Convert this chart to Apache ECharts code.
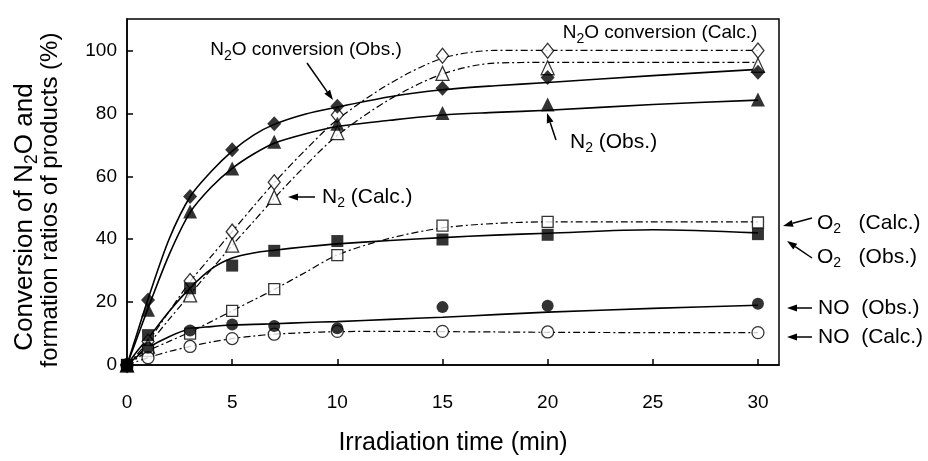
<!DOCTYPE html>
<html>
<head>
<meta charset="utf-8">
<script src="https://cdn.jsdelivr.net/npm/echarts@6/dist/echarts.min.js"></script>
<style>
  html, body { margin: 0; padding: 0; background: #fff; }
  #chart { width: 928px; height: 461px; }
</style>
</head>
<body>
<div id="chart"></div>
<script>
// measured points (min, %)
const times = [0, 1, 3, 5, 7, 10, 15, 20, 30];
const n2oObs = [0, 20.7, 53.6, 68.4, 76.7, 82.3, 88.0, 91.4, 93.1];
const n2Obs = [0, 17.6, 48.8, 62.5, 71.0, 76.7, 80.1, 82.8, 84.4];
const o2Obs = [0, 9.5, 24.4, 31.6, 36.3, 39.4, 39.9, 41.4, 41.6];
const noObs = [0, 5.5, 11.0, 12.9, 12.4, 11.7, 18.4, 18.8, 19.5];
const n2oCalc = [0, 7.5, 26.7, 42.4, 58.1, 79.5, 98.3, 99.9, 100];
const n2Calc = [0, 6.0, 22.3, 38.1, 53.3, 73.9, 92.7, 94.5, 95.3];
const o2Calc = [0, 4.5, 10.0, 17.2, 24.1, 34.9, 44.3, 45.5, 45.3];
const noCalc = [0, 2.3, 5.9, 8.4, 9.8, 10.7, 10.7, 10.5, 10.3];

// fitted curves
const curveT = [0, 0.5, 1, 2, 3, 4, 5, 6, 7, 8.5, 10, 12.5, 15, 17.5, 20, 25, 30];
const n2oObsCurve = [0, 10.5, 21, 40, 53.5, 61.5, 68, 73, 76.5, 79.8, 82, 85.3, 87.5, 88.8, 89.8, 92, 94];
const n2ObsCurve = [0, 9, 18, 35, 48.5, 56.5, 62.5, 67, 70.5, 73.5, 75.8, 77.8, 79.5, 80.3, 81, 82.8, 84.2];
const o2ObsCurve = [0, 4.5, 8.5, 17, 24.5, 30.5, 34, 35.6, 36.5, 37.6, 38.5, 39.6, 40.5, 41.3, 41.9, 43, 42];
const noObsCurve = [0, 2.8, 5.5, 9, 11.5, 12.2, 12.7, 12.9, 13.1, 13.5, 13.8, 14.5, 15.2, 16, 16.8, 18, 19];
const n2oCalcCurve = [0, 3.5, 7.5, 17, 26.5, 34.5, 42.4, 50.3, 58, 68.5, 78, 89.5, 97.5, 100, 100, 100, 100];
const n2CalcCurve = [0, 3, 6.5, 14.5, 22.5, 30.3, 38, 45.5, 53, 63.5, 73, 84.5, 92.5, 96, 96.2, 96.2, 96.2];
const o2CalcCurve = [0, 2.2, 4.5, 7.5, 10.5, 13.8, 17.2, 20.6, 24, 29.5, 35, 40.3, 43.6, 45, 45.5, 45.5, 45.5];
const noCalcCurve = [0, 1.2, 2.3, 4.3, 5.9, 7.3, 8.4, 9.2, 9.8, 10.3, 10.6, 10.7, 10.6, 10.5, 10.4, 10.3, 10.3];

const xTicks = [0, 5, 10, 15, 20, 25, 30];
const yTicks = [0, 20, 40, 60, 80, 100];

const FONT = '"Liberation Sans", Arial, sans-serif';
const pair = (xs, ys) => xs.map((x, i) => [x, ys[i]]);

function curve(vals, dashed) {
    return {
        type: 'line',
        data: pair(curveT, vals),
        showSymbol: false,
        smooth: 0.3,
        silent: true,
        z: 2,
        lineStyle: dashed
            ? { color: '#000', width: 1.2, type: [7, 3, 2, 3] }
            : { color: '#000', width: 1.6 }
    };
}

function marks(vals, symbol, size, filled, z) {
    return {
        type: 'scatter',
        data: pair(times, vals),
        symbol: symbol,
        symbolSize: size,
        z: z,
        itemStyle: {
            color: filled ? '#000' : '#fff',
            borderColor: '#000',
            borderWidth: filled ? 0 : 1.3
        }
    };
}

const sub = { fontSize: 14, fontFamily: FONT, color: '#000', padding: [12, 0, 0, 0] };
function label(x, y, parts, size, align) {
    const rich = { a: { fontSize: size, fontFamily: FONT, color: '#000' }, s: sub };
    return {
        type: 'text',
        x: x, y: y,
        style: {
            text: parts,
            rich: rich,
            fontSize: size,
            fontFamily: FONT,
            align: align || 'left',
            verticalAlign: 'middle'
        }
    };
}

function arrow(x1, y1, x2, y2) {
    const ang = Math.atan2(y2 - y1, x2 - x1);
    const L = 10, W = 3.5;
    const bx = x2 - L * Math.cos(ang), by = y2 - L * Math.sin(ang);
    const px = -Math.sin(ang) * W, py = Math.cos(ang) * W;
    return [
        { type: 'line', shape: { x1: x1, y1: y1, x2: bx, y2: by }, style: { stroke: '#000', lineWidth: 1.5 } },
        { type: 'polygon', shape: { points: [[x2, y2], [bx + px, by + py], [bx - px, by - py]] }, style: { fill: '#000' } }
    ];
}

const graphics = [
    label(306, 50, '{a|N}{s|2}{a|O conversion (Obs.)}', 19, 'center'),
    label(660, 33, '{a|N}{s|2}{a|O conversion (Calc.)}', 19, 'center'),
    label(570, 142, '{a|N}{s|2}{a| (Obs.)}', 21),
    label(322, 197, '{a|N}{s|2}{a| (Calc.)}', 21),
    label(817, 223, '{a|O}{s|2}{a|   (Calc.)}', 21),
    label(817, 257, '{a|O}{s|2}{a|   (Obs.)}', 21),
    label(818, 308, '{a|NO  (Obs.)}', 21),
    label(818, 337, '{a|NO  (Calc.)}', 21),
    {
        type: 'text', x: 25, y: 217, rotation: Math.PI / 2,
        style: {
            text: '{a|Conversion of N}{s|2}{a|O and}',
            rich: { a: { fontSize: 26, fontFamily: FONT, color: '#000' }, s: { fontSize: 18, fontFamily: FONT, color: '#000', padding: [14, 0, 0, 0] } },
            align: 'center', verticalAlign: 'middle'
        }
    },
    {
        type: 'text', x: 50, y: 200, rotation: Math.PI / 2,
        style: { text: 'formation ratios of products (%)', fontSize: 24, fontFamily: FONT, fill: '#000', align: 'center', verticalAlign: 'middle' }
    }
]
    .concat(arrow(307, 63, 333, 100))
    .concat(arrow(556, 140, 547, 113))
    .concat(arrow(315, 197, 288, 197))
    .concat(arrow(812, 218, 783, 226))
    .concat(arrow(812, 258, 787, 241))
    .concat(arrow(812, 308, 787, 308))
    .concat(arrow(812, 337, 787, 337));

const option = {
    animation: false,
    backgroundColor: '#fff',
    grid: {
        left: 127, right: 149, top: 19, bottom: 87,
        show: true, borderColor: '#000', borderWidth: 1.5
    },
    xAxis: {
        type: 'value',
        min: 0, max: 31, interval: 5,
        name: 'Irradiation time (min)',
        nameLocation: 'middle',
        nameGap: 66,
        nameTextStyle: { fontSize: 25, fontFamily: FONT, color: '#000' },
        axisLine: { lineStyle: { color: '#000', width: 1.5 } },
        axisTick: { inside: true, length: 6, customValues: xTicks, lineStyle: { color: '#000', width: 1.5 } },
        axisLabel: { customValues: xTicks, fontSize: 19, fontFamily: FONT, color: '#000', margin: 28,
            align: 'center',
            formatter: v => (v % 5 === 0 ? String(v) : '') },
        splitLine: { show: false }
    },
    yAxis: {
        type: 'value',
        min: 0, max: 110, interval: 20,
        axisLine: { show: true, lineStyle: { color: '#000', width: 1.5 } },
        axisTick: { show: true, inside: true, length: 6, customValues: yTicks, lineStyle: { color: '#000', width: 1.5 } },
        axisLabel: { customValues: yTicks, fontSize: 19, fontFamily: FONT, color: '#000', margin: 10,
            verticalAlign: 'middle',
            formatter: v => (v % 20 === 0 && v <= 100 ? String(v) : '') },
        splitLine: { show: false }
    },
    graphic: graphics,
    series: [
        curve(n2oObsCurve, false),
        curve(n2ObsCurve, false),
        curve(o2ObsCurve, false),
        curve(noObsCurve, false),
        curve(n2oCalcCurve, true),
        curve(n2CalcCurve, true),
        curve(o2CalcCurve, true),
        curve(noCalcCurve, true),
        marks(n2oCalc, 'diamond', [12, 15], false, 3),
        marks(n2Calc, 'triangle', [13, 14], false, 3),
        marks(o2Calc, 'rect', 11, false, 3),
        marks(noCalc, 'circle', 12, false, 3),
        marks(noObs, 'circle', 12, true, 4),
        marks(n2Obs, 'triangle', [14, 14], true, 4),
        marks(n2oObs, 'diamond', [14, 15], true, 4),
        marks(o2Obs, 'rect', 12, true, 5)
    ]
};

const chart = echarts.init(document.getElementById('chart'));
chart.setOption(option);
</script>
</body>
</html>
